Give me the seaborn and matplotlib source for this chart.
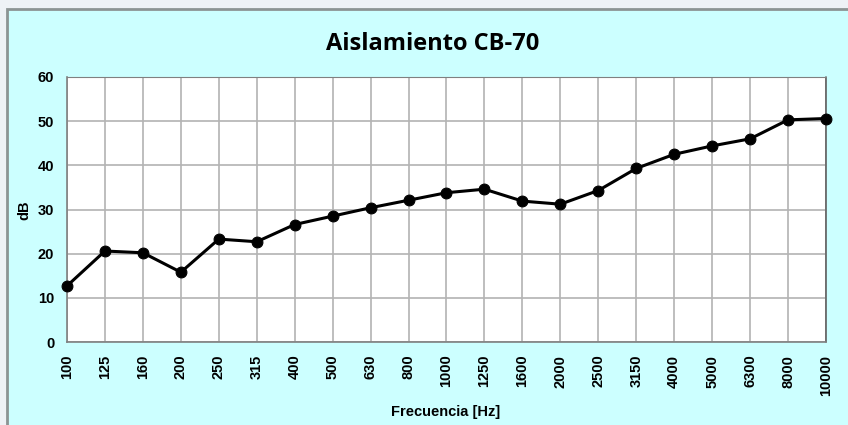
import matplotlib
matplotlib.use("Agg")
import matplotlib.pyplot as plt
import seaborn as sns
import pandas as pd
from matplotlib.patches import Rectangle

freqs = ["100", "125", "160", "200", "250", "315", "400", "500", "630", "800",
         "1000", "1250", "1600", "2000", "2500", "3150", "4000", "5000", "6300",
         "8000", "10000"]
db_values = [12.7, 20.6, 20.2, 15.8, 23.3, 22.7, 26.6, 28.5, 30.4, 32.1,
             33.8, 34.6, 31.9, 31.2, 34.3, 39.3, 42.5, 44.4, 46.0, 50.3, 50.6]
y_ticks = [0, 10, 20, 30, 40, 50, 60]

title = "Aislamiento CB-70"
xlabel = "Frecuencia [Hz]"
ylabel = "dB"

df = pd.DataFrame({"pos": range(len(freqs)), "freq": freqs, "db": db_values})

sns.set_style("white")
plt.rcParams["font.family"] = ["Liberation Sans", "DejaVu Sans"]
plt.rcParams["text.color"] = "black"
plt.rcParams["axes.labelcolor"] = "black"
plt.rcParams["xtick.color"] = "black"
plt.rcParams["ytick.color"] = "black"

W, H = 848, 425
fig = plt.figure(figsize=(W / 100, H / 100), dpi=100)
fig.patch.set_facecolor("#eef2f6")

# chart panel
panel = Rectangle((7 / W, -0.05), 1.05, (H - 9) / H + 0.05, transform=fig.transFigure,
                  facecolor="#ccffff", edgecolor="#8c9494", linewidth=2, zorder=-10)
fig.patches.append(panel)

left, right, top, bottom = 67, 826, 77, 342
ax = fig.add_axes([left / W, 1 - bottom / H, (right - left) / W, (bottom - top) / H])
ax.set_zorder(1)
ax.set_facecolor("white")

sns.lineplot(data=df, x="pos", y="db", ax=ax, color="black", linewidth=2.2,
             marker="o", markersize=7.8, markeredgecolor="black", markerfacecolor="black",
             zorder=5, clip_on=False)

ax.set_xlim(0, len(freqs) - 1)
ax.set_ylim(0, 60)
ax.set_xticks(range(len(freqs)))
ax.set_xticklabels(freqs, rotation=90, fontsize=10.5, fontweight="bold")
ax.set_yticks(y_ticks)
ax.set_yticklabels([str(v) for v in y_ticks], fontsize=10.5, fontweight="bold")

ax.grid(True, color="#b3b3b3", linewidth=1.2)
ax.set_axisbelow(True)
for s in ["top", "right"]:
    ax.spines[s].set_visible(False)
for s in ["left", "bottom"]:
    ax.spines[s].set_color("#808080")
    ax.spines[s].set_linewidth(1.2)
ax.plot([1, 1], [0, 1], transform=ax.transAxes, color="#606060", linewidth=1.2, clip_on=False, zorder=1)
ax.plot([0, 1], [1, 1], transform=ax.transAxes, color="#808080", linewidth=0.8, clip_on=False, zorder=1)

ax.tick_params(axis="both", direction="out", length=3.6, width=1.2, color="#808080",
               labelcolor="black", pad=5.5)
ax.set_xlabel(xlabel, fontsize=10.5, fontweight="bold")
ax.set_ylabel(ylabel, fontsize=10.5, fontweight="bold")
ax.xaxis.set_label_coords(0.5 + (446 - (left + right) / 2) / (right - left), (bottom - 412) / (bottom - top))
ax.yaxis.set_label_coords((24 - left) / (right - left), 0.5 + (bottom - 210 - (bottom - top) / 2) / (bottom - top))
ax.xaxis.label.set_va("center")
ax.yaxis.label.set_va("center")

fig.text(433 / W, 1 - 44 / H, title, ha="center", va="center", color="black",
         fontsize=17, fontweight="bold", family=["Open Sans", "DejaVu Sans"])

fig.savefig("out.png", dpi=100, facecolor=fig.get_facecolor())
